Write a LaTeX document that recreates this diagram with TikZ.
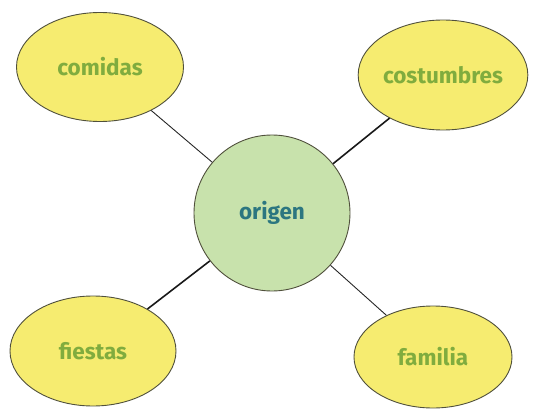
\documentclass[tikz,border=0pt]{standalone}
\usepackage{fontspec}
\setmainfont{Fira Sans}
\usetikzlibrary{shapes.geometric}
\definecolor{ovalfill}{RGB}{246,236,112}
\definecolor{ovaltext}{RGB}{128,172,62}
\definecolor{circfill}{RGB}{200,226,172}
\definecolor{circtext}{RGB}{44,118,128}
\definecolor{rim}{RGB}{80,80,60}
\tikzset{
  oval/.style={ellipse, draw=rim, line width=0.9pt, fill=ovalfill, inner sep=0pt,
    text=ovaltext, font=\fontsize{22.5}{26}\selectfont\bfseries},
  hub/.style={circle, draw=rim, line width=0.9pt, fill=circfill, inner sep=0pt,
    minimum size=156pt, text=circtext, font=\fontsize{22.5}{26}\selectfont\bfseries},
  thinlink/.style={draw=black!85, line width=0.9pt},
  thicklink/.style={draw=black!90, line width=1.6pt}
}
\begin{document}
\begin{tikzpicture}[x=1pt,y=-1pt]
\useasboundingbox (0,0) rectangle (546,409);
\node[oval, minimum width=167pt, minimum height=109pt] (comidas) at (100,67) {comidas};
\node[oval, minimum width=162pt, minimum height=110pt] (costumbres) at (443,75) {costumbres};
\node[oval, minimum width=166pt, minimum height=110pt] (fiestas) at (93,351) {fiestas};
\node[oval, minimum width=158pt, minimum height=102pt] (familia) at (433,357) {familia};
\node[hub] (origen) at (272,213) {origen};
\draw[thinlink] (comidas) -- (origen);
\draw[thicklink] (costumbres) -- (origen);
\draw[thicklink] (fiestas) -- (origen);
\draw[thinlink] (familia) -- (origen);
\end{tikzpicture}
\end{document}
